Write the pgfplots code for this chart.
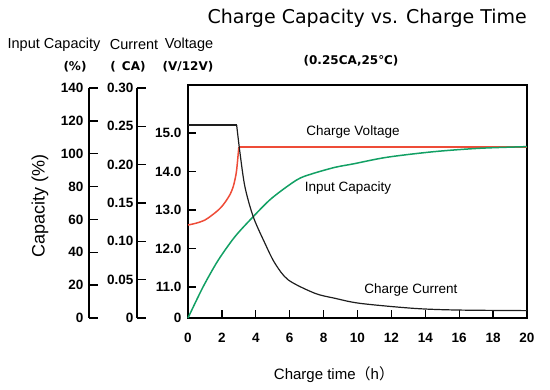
\documentclass[border=0pt]{standalone}
\usepackage{pgfplots}
\pgfplotsset{compat=1.18}
\usepackage{fontspec}
\setmainfont{Liberation Sans}
\newfontfamily\djv{DejaVu Sans}
\newfontfamily\djvb{DejaVu Sans Bold}
\newfontfamily\cjk{Noto Sans CJK SC}
\definecolor{cvred}{RGB}{238,76,56}
\definecolor{capgreen}{RGB}{18,160,100}
\definecolor{curblack}{RGB}{30,30,30}
\begin{document}
\begin{tikzpicture}[x=1pt,y=1pt]
\path[use as bounding box] (0pt,0pt) rectangle (550pt,390pt);
\pgfplotsset{
  every axis/.append style={scale only axis,
    /pgf/number format/assume math mode=true,
    tick label style={font=\bfseries\fontsize{13.5}{15}\selectfont},
    major tick length=8pt,
    tick style={line width=1.3pt, black},
    axis line style={line width=1.5pt, black}},
}
% capacity scale
\begin{axis}[at={(89pt,72pt)}, anchor=south west, width=1pt, height=230pt,
  xmin=0, xmax=1, ymin=0, ymax=140,
  axis x line=none, axis y line=left, axis line style={-},
  tick align=inside, ytick align=inside,
  ytick={0,20,...,140}, major tick length=9pt,
  yticklabel style={xshift=-2pt}]
\addplot[draw=none] coordinates {(0,0)};
\end{axis}
% current scale
\begin{axis}[at={(137pt,72pt)}, anchor=south west, width=1pt, height=230pt,
  xmin=0, xmax=1, ymin=0, ymax=0.30,
  axis x line=none, axis y line=left, axis line style={-},
  tick align=inside, ytick align=inside,
  ytick={0,0.05,0.10,0.15,0.20,0.25,0.30},
  yticklabels={0,0.05,0.10,0.15,0.20,0.25,0.30}, major tick length=9pt,
  yticklabel style={xshift=0pt}]
\addplot[draw=none] coordinates {(0,0)};
\end{axis}
% main box: voltage & time
\begin{axis}[at={(188pt,72pt)}, anchor=south west, width=339pt, height=233pt,
  xmin=0, xmax=20, ymin=10.195, ymax=16.247,
  tick align=inside,
  xtick={0,2,...,20},
  ytick={10.195,11,12,13,14,15}, yticklabels={0,11.0,12.0,13.0,14.0,15.0},
  tick pos=left, clip=false,
  xticklabel style={yshift=-12pt}, yticklabel style={xshift=-3pt}]
\addplot[cvred, line width=1.5pt, smooth] coordinates {
(0,12.61) (0.5,12.66) (1.0,12.74) (1.4,12.86) (1.79,13.0) (2.05,13.12) (2.28,13.26) (2.5,13.42) (2.67,13.61) (2.8,13.85) (2.87,14.04) (2.94,14.35) (3.0,14.64)};
\addplot[cvred, line width=1.5pt] coordinates {(3.0,14.64) (20,14.64)};
\end{axis}
% input capacity
\begin{axis}[at={(188pt,72pt)}, anchor=south west, width=339pt, height=230pt,
  xmin=0, xmax=20, ymin=0, ymax=140, hide axis, clip=false]
\addplot[capgreen, line width=1.5pt, smooth] coordinates {
(0,0) (0.5,10.8) (1.0,21.1) (1.79,35.3) (2.77,49.5) (3.85,61.7) (4.94,72.9) (6.41,84) (7.3,87.7) (8.67,91.7) (9.75,93.8) (11.72,97.8) (14.47,101.2) (17.2,103.3) (20,104.3)};
\end{axis}
% charge current
\begin{axis}[at={(188pt,72pt)}, anchor=south west, width=339pt, height=230pt,
  xmin=0, xmax=20, ymin=0, ymax=0.30, hide axis, clip=false]
\addplot[curblack, line width=1.2pt] coordinates {(0,0.2517) (2.87,0.2517)};
\addplot[curblack, line width=1.2pt, smooth] coordinates {
(2.87,0.2517) (3.07,0.2148) (3.36,0.171) (3.85,0.132) (4.54,0.0974) (5.13,0.0713) (5.92,0.0496) (7.49,0.0322) (8.67,0.0257) (10.15,0.0191) (13.3,0.0126) (15.85,0.0104) (20,0.0096)};
\end{axis}
% texts
\node[font={\djv\fontsize{19}{21}\selectfont}, anchor=east, inner sep=0pt] at (527pt,372pt) {Charge Capacity vs. Charge Time};
\node[font={\djvb\fontsize{12}{14}\selectfont}] at (351pt,329pt) {(0.25CA,25℃)};
\node[font=\fontsize{14.5}{16}\selectfont] at (54pt,345pt) {Input Capacity};
\node[font=\fontsize{14.5}{16}\selectfont] at (134pt,345pt) {Current};
\node[font=\fontsize{14.5}{16}\selectfont] at (189pt,345pt) {Voltage};
\node[font={\djvb\fontsize{12}{14}\selectfont}] at (75pt,323pt) {(\%)};
\node[font={\djvb\fontsize{12}{14}\selectfont}] at (128pt,323pt) {(\enspace CA)};
\node[font={\djvb\fontsize{12}{14}\selectfont}] at (188pt,323pt) {(V/12V)};
\node[font=\fontsize{18}{20}\selectfont, rotate=90] at (40pt,184pt) {Capacity (\%)};
\node[font=\fontsize{15}{17}\selectfont] at (334pt,15pt) {Charge time{\cjk （}h{\cjk ）}};
\node[font=\fontsize{13.5}{15}\selectfont] at (353pt,258pt) {Charge Voltage};
\node[font=\fontsize{13.5}{15}\selectfont] at (348pt,202pt) {Input Capacity};
\node[font=\fontsize{13.5}{15}\selectfont] at (411pt,100pt) {Charge Current};
\end{tikzpicture}
\end{document}
